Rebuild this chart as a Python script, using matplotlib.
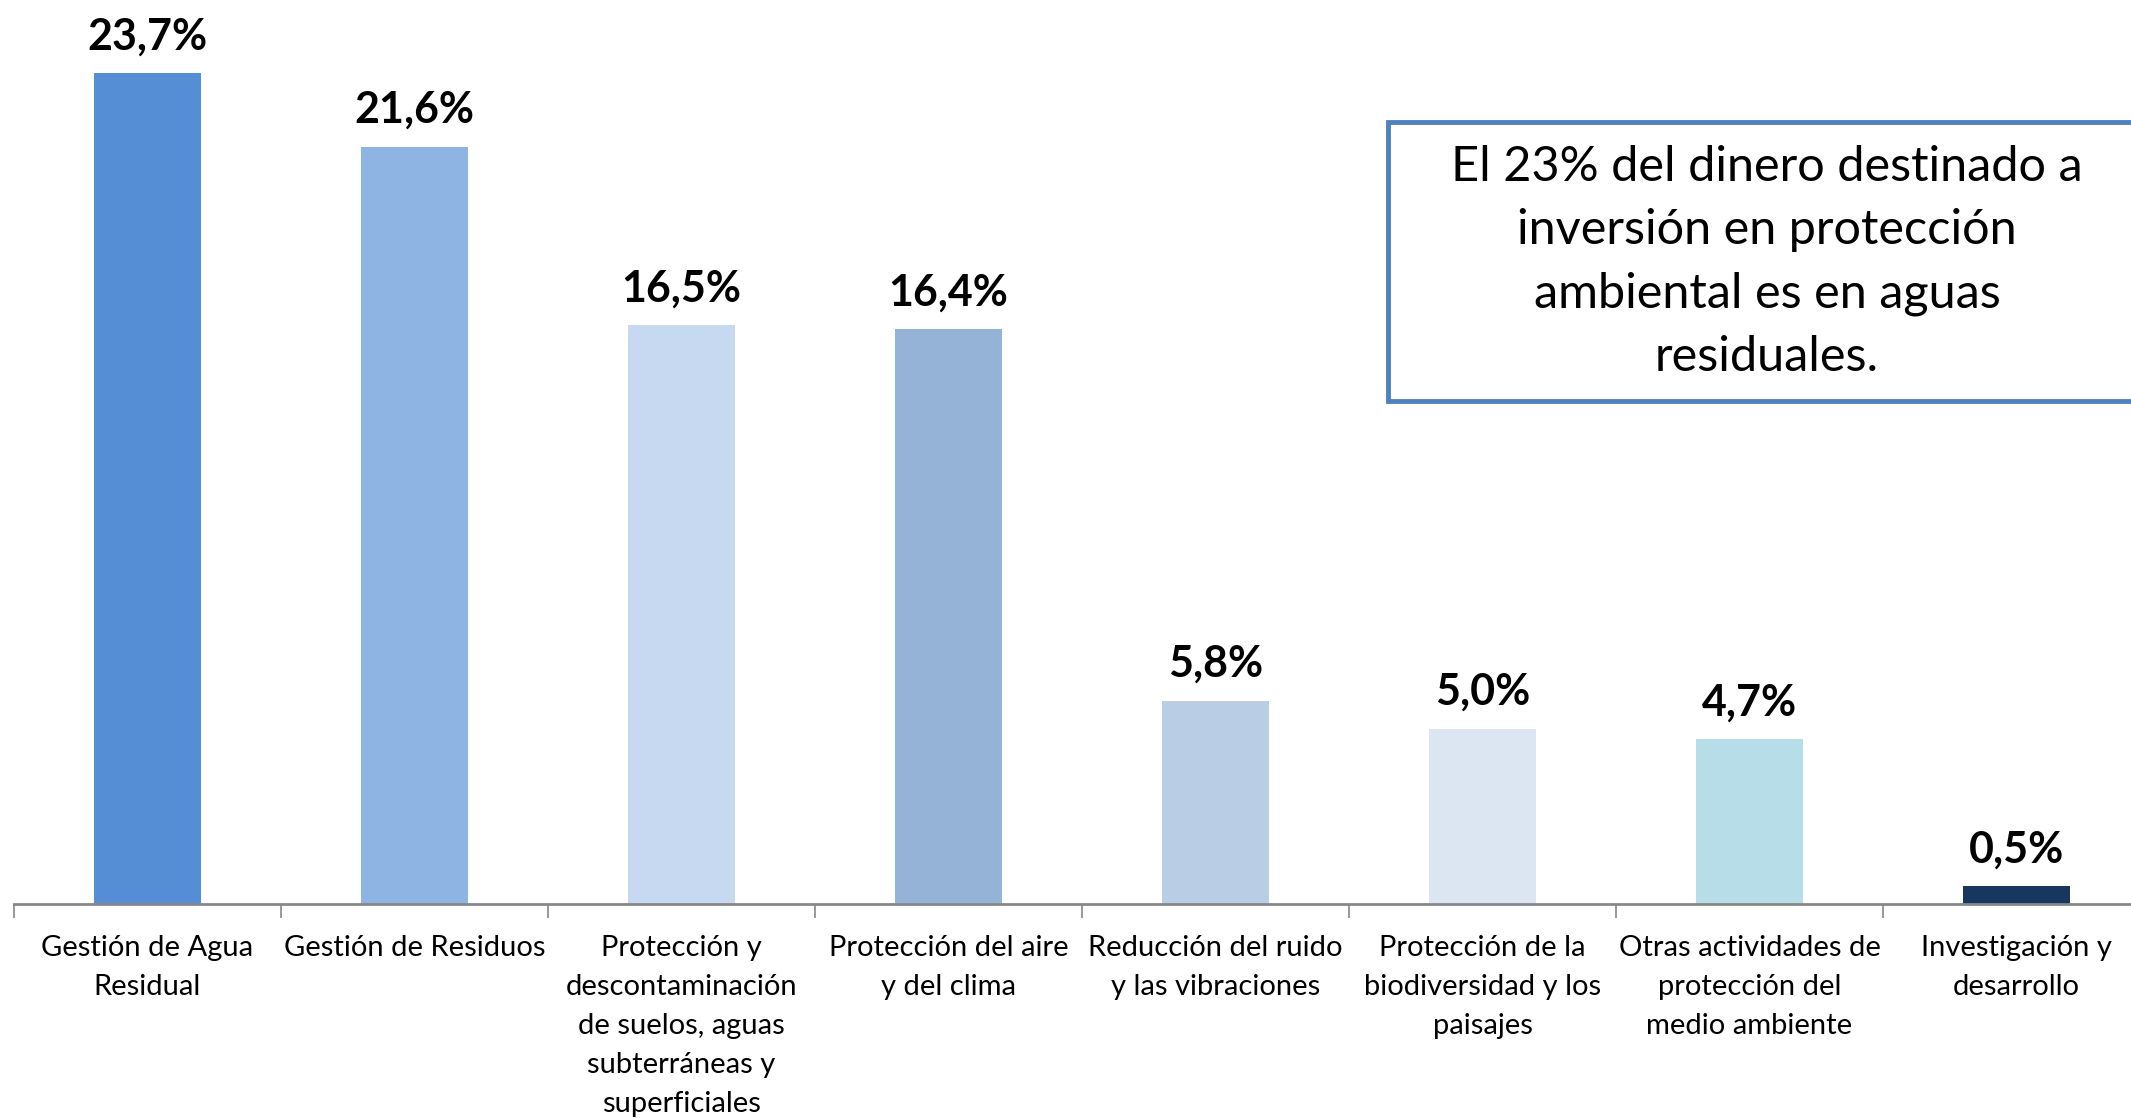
import numpy as np
import matplotlib
matplotlib.use("Agg")
import matplotlib.pyplot as plt
from matplotlib.patches import Rectangle

plt.rcParams['font.family'] = ['Lato', 'DejaVu Sans']

# datos
categorias = ["Gestión de Agua\nResidual",
              "Gestión de Residuos",
              "Protección y\ndescontaminación\nde suelos, aguas\nsubterráneas y\nsuperficiales",
              "Protección del aire\ny del clima",
              "Reducción del ruido\ny las vibraciones",
              "Protección de la\nbiodiversidad y los\npaisajes",
              "Otras actividades de\nprotección del\nmedio ambiente",
              "Investigación y\ndesarrollo"]
porcentajes = [23.7, 21.6, 16.5, 16.4, 5.8, 5.0, 4.7, 0.5]
colores = ["#558ED5", "#8EB4E3", "#C6D9F1", "#95B3D7",
           "#B9CDE5", "#DCE6F2", "#B7DEE8", "#17375E"]
nota = "El 23% del dinero destinado a\ninversión en protección\nambiental es en aguas\nresiduales."

W, H = 2131, 1118
fig = plt.figure(figsize=(W / 100, H / 100), dpi=100)

# eje: de x=14 a x=2150 px, base en y=904 px
ax = fig.add_axes([14 / W, (H - 904) / H, 2136 / W, 904 / H])
x = np.arange(len(categorias))
ax.bar(x, porcentajes, width=0.4, color=colores, zorder=2)
ax.set_xlim(-0.5, len(categorias) - 0.5)
ax.set_ylim(0, 25.78)

for i, v in enumerate(porcentajes):
    ax.annotate(f"{v:.1f}%".replace(".", ","), (i, v), xytext=(0, 12),
                textcoords="offset points", ha="center", va="bottom",
                fontsize=31, fontweight="bold", color="black")

ax.set_xticks(x)
ax.set_xticklabels(categorias, fontsize=21, linespacing=1.63)
ax.tick_params(axis="x", which="major", length=0, pad=22)
ax.set_xticks(np.arange(len(categorias) + 1) - 0.5, minor=True)
ax.tick_params(axis="x", which="minor", length=10, width=1.2, color="#888888")
ax.set_yticks([])
for s in ["left", "top", "right"]:
    ax.spines[s].set_visible(False)
ax.spines["bottom"].set_color("#888888")
ax.spines["bottom"].set_linewidth(2)

# cuadro de texto
box = Rectangle((1388 / W, (H - 401) / H), 760 / W, 279 / H,
                transform=fig.transFigure, facecolor="white",
                edgecolor="#4F81BD", linewidth=3.5, zorder=5)
fig.patches.append(box)
fig.text(1767 / W, (H - 262) / H, nota, ha="center", va="center",
         fontsize=35, linespacing=1.53, zorder=6)

fig.savefig("out.png", dpi=100)
